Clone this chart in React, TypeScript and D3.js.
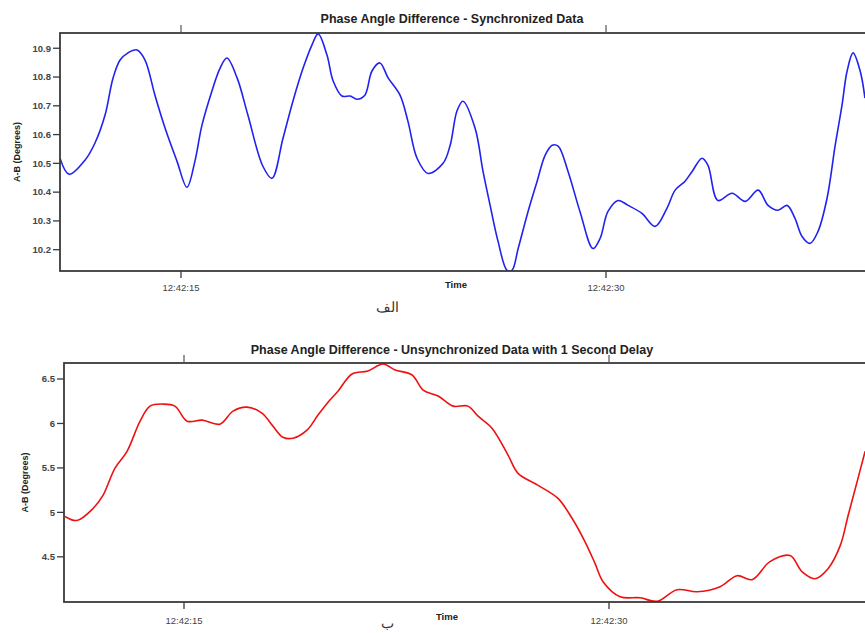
import React from "react";
import * as d3 from "d3";

// Time in seconds after 12:42:00
const syncTime = [10.73, 11.05, 11.61, 11.96, 12.32, 12.6, 12.85, 13.13, 13.45, 13.73, 14.08, 14.44, 14.86, 15.21, 15.49, 15.74, 16.09, 16.38, 16.62, 16.98, 17.36, 17.89, 18.21, 18.6, 18.95, 19.31, 19.62, 19.84, 20.15, 20.37, 20.68, 20.97, 21.21, 21.49, 21.74, 22.02, 22.31, 22.73, 23.01, 23.33, 23.72, 24.25, 24.5, 24.74, 24.95, 25.38, 25.66, 25.91, 26.19, 26.51, 26.68, 26.9, 27.25, 27.57, 27.85, 28.1, 28.31, 28.66, 29.08, 29.54, 29.79, 30.07, 30.43, 30.78, 31.27, 31.73, 32.15, 32.44, 32.79, 33.04, 33.39, 33.6, 33.95, 34.45, 34.91, 35.37, 35.72, 36.07, 36.39, 36.67, 36.92, 37.2, 37.48, 37.8, 38.09, 38.33, 38.51, 38.72, 38.97, 39.14];
const syncValue = [10.518, 10.462, 10.511, 10.57, 10.668, 10.796, 10.859, 10.884, 10.894, 10.859, 10.737, 10.622, 10.507, 10.417, 10.507, 10.633, 10.751, 10.831, 10.866, 10.797, 10.668, 10.49, 10.448, 10.587, 10.716, 10.831, 10.911, 10.95, 10.877, 10.786, 10.734, 10.734, 10.723, 10.737, 10.821, 10.849, 10.797, 10.737, 10.646, 10.518, 10.465, 10.5, 10.563, 10.682, 10.716, 10.622, 10.472, 10.354, 10.229, 10.128, 10.128, 10.204, 10.333, 10.438, 10.528, 10.563, 10.56, 10.472, 10.333, 10.204, 10.239, 10.333, 10.371, 10.354, 10.326, 10.281, 10.344, 10.407, 10.438, 10.472, 10.518, 10.493, 10.371, 10.396, 10.368, 10.407, 10.354, 10.337, 10.354, 10.309, 10.246, 10.222, 10.263, 10.378, 10.563, 10.702, 10.821, 10.884, 10.821, 10.727];

const unsyncTime = [10.8, 11.22, 11.79, 12.14, 12.56, 12.99, 13.45, 13.8, 14.26, 14.68, 15.11, 15.64, 16.27, 16.73, 17.22, 17.75, 18.14, 18.49, 18.85, 19.34, 19.73, 20.15, 20.44, 20.93, 21.49, 22.02, 22.45, 23.05, 23.44, 23.97, 24.5, 25.02, 25.38, 25.87, 26.44, 26.79, 27.5, 28.2, 28.7, 29.15, 29.51, 29.79, 30.39, 31.1, 31.7, 32.4, 33.11, 33.92, 34.52, 35.05, 35.68, 36.39, 36.81, 37.27, 37.73, 38.16, 38.44, 38.76, 39.04];
const unsyncValue = [4.954, 4.909, 5.044, 5.191, 5.496, 5.687, 6.026, 6.195, 6.218, 6.195, 6.026, 6.037, 5.992, 6.139, 6.184, 6.116, 5.97, 5.845, 5.834, 5.924, 6.094, 6.263, 6.365, 6.556, 6.59, 6.669, 6.602, 6.545, 6.376, 6.308, 6.195, 6.195, 6.082, 5.947, 5.642, 5.439, 5.304, 5.157, 4.931, 4.672, 4.423, 4.22, 4.051, 4.039, 4.0, 4.13, 4.107, 4.164, 4.288, 4.243, 4.446, 4.514, 4.333, 4.254, 4.367, 4.626, 4.965, 5.349, 5.687];

const xTickSeconds = [15, 30];
const xTickLabels = ["12:42:15", "12:42:30"];
const syncYTicks = [10.2, 10.3, 10.4, 10.5, 10.6, 10.7, 10.8, 10.9];
const unsyncYTicks = [4.5, 5, 5.5, 6, 6.5];
const unsyncYTickLabels = ["4.5", "5", "5.5", "6", "6.5"];

const FONT = "'Liberation Sans', Arial, sans-serif";

type PanelProps = {
  id: string;
  left: number;
  top: number;
  bottom: number;
  x15: number;
  x30: number;
  yDomain: [number, number];
  yTicks: number[];
  yTickLabels: string[];
  times: number[];
  values: number[];
  color: string;
  title: string;
  titleY: number;
  yTitleX: number;
  timeX: number;
  timeY: number;
  tickLabelY: number;
  caption: string;
  captionY: number;
};

function Panel(p: PanelProps) {
  const x = d3.scaleLinear().domain([15, 30]).range([p.x15, p.x30]);
  const y = d3.scaleLinear().domain(p.yDomain).range([p.bottom, p.top]);
  const right = 880;
  const pts = p.times.map((t, i) => [t, p.values[i]] as [number, number]);
  const line = d3
    .line<[number, number]>()
    .x((d) => x(d[0]))
    .y((d) => y(d[1]))
    .curve(d3.curveCatmullRom.alpha(0.5));
  const yMid = (p.top + p.bottom) / 2;
  return (
    <g>
      <defs>
        <clipPath id={p.id}>
          <rect x={p.left} y={p.top} width={right - p.left} height={p.bottom - p.top} />
        </clipPath>
      </defs>
      <text x={452} y={p.titleY} textAnchor="middle" fontFamily={FONT} fontWeight="bold" fontSize={12.5} fill="#222">
        {p.title}
      </text>
      <path d={line(pts) || ""} fill="none" stroke={p.color} strokeWidth={1.6} clipPath={`url(#${p.id})`} />
      <rect x={p.left} y={p.top} width={right - p.left} height={p.bottom - p.top} fill="none" stroke="#3a3a3a" strokeWidth={1.8} />
      {p.yTicks.map((v, i) => (
        <g key={"y" + i}>
          <line x1={p.left - 7} x2={p.left} y1={y(v)} y2={y(v)} stroke="#3a3a3a" strokeWidth={1.3} />
          <text x={p.left - 9} y={y(v) + 3.3} textAnchor="end" fontFamily={FONT} fontWeight="bold" fontSize={9.5} fill="#444">
            {p.yTickLabels[i]}
          </text>
        </g>
      ))}
      {xTickSeconds.map((s, i) => (
        <g key={"x" + i}>
          <line x1={x(s)} x2={x(s)} y1={p.bottom} y2={p.bottom + 7} stroke="#3a3a3a" strokeWidth={1.3} />
          <line x1={x(s)} x2={x(s)} y1={p.top - 8} y2={p.top} stroke="#555" strokeWidth={1.2} />
          <text x={x(s)} y={p.tickLabelY} textAnchor="middle" fontFamily={FONT} fontSize={9.5} fill="#444">
            {xTickLabels[i]}
          </text>
        </g>
      ))}
      <text
        transform={`translate(${p.yTitleX},${yMid}) rotate(-90)`}
        textAnchor="middle"
        fontFamily={FONT}
        fontWeight="bold"
        fontSize={9}
        fill="#222"
      >
        A-B (Degrees)
      </text>
      <text x={p.timeX} y={p.timeY} textAnchor="middle" fontFamily={FONT} fontWeight="bold" fontSize={9.5} fill="#222">
        Time
      </text>
      <text x={387} y={p.captionY} textAnchor="middle" fontFamily="'DejaVu Serif', serif" fontSize={14} fill="#333">
        {p.caption}
      </text>
    </g>
  );
}

export default function App() {
  return (
    <svg width={865} height={633} style={{ position: "absolute", left: 0, top: 0, background: "#fff" }}>
      <rect x={0} y={0} width={865} height={633} fill="#fff" />
      <Panel
        id="clipTop"
        left={60}
        top={33}
        bottom={271}
        x15={181}
        x30={606}
        yDomain={[10.126, 10.953]}
        yTicks={syncYTicks}
        yTickLabels={syncYTicks.map((v) => v.toFixed(1))}
        times={syncTime}
        values={syncValue}
        color="#2222ee"
        title="Phase Angle Difference - Synchronized Data"
        titleY={23}
        yTitleX={20}
        timeX={456}
        timeY={288}
        tickLabelY={291}
        caption="الف"
        captionY={312}
      />
      <Panel
        id="clipBottom"
        left={64}
        top={363}
        bottom={602}
        x15={184}
        x30={609}
        yDomain={[3.992, 6.68]}
        yTicks={unsyncYTicks}
        yTickLabels={unsyncYTickLabels}
        times={unsyncTime}
        values={unsyncValue}
        color="#ee1111"
        title="Phase Angle Difference - Unsynchronized Data with 1 Second Delay"
        titleY={354}
        yTitleX={28}
        timeX={447}
        timeY={620}
        tickLabelY={624}
        caption="ب"
        captionY={628}
      />
    </svg>
  );
}
